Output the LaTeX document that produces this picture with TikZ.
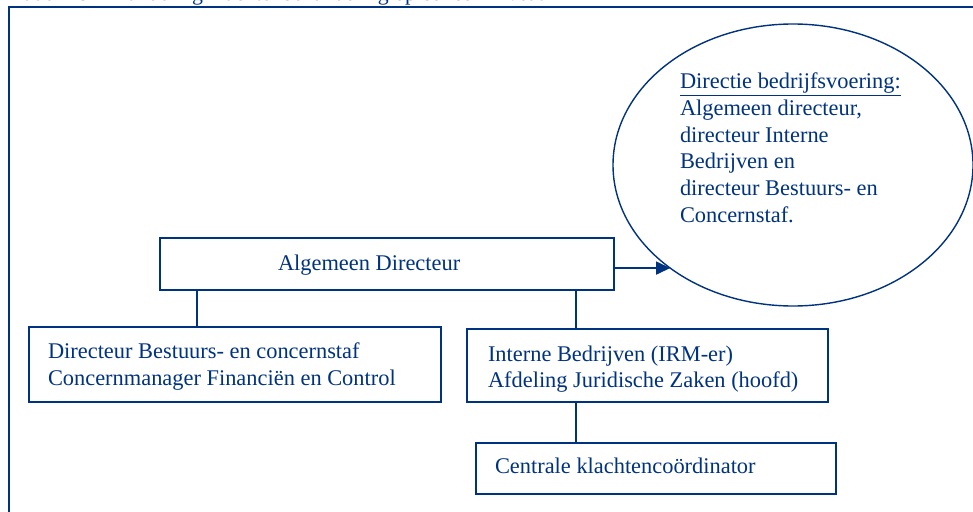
\documentclass[tikz,border=0pt]{standalone}
\usepackage{fontspec}
\setmainfont{Liberation Serif}
\usetikzlibrary{arrows.meta,shapes.geometric}
\definecolor{navy}{RGB}{0,51,127}
\begin{document}
\begin{tikzpicture}[x=1pt,y=-1pt,
  every node/.style={inner sep=0pt, outer sep=0pt},
  boxnode/.style={draw=navy, line width=1.4pt, rectangle, anchor=north west},
  lbl/.style={anchor=base west, text=navy, font=\fontsize{22.4}{26.7}\selectfont},
  conn/.style={draw=navy, line width=1.4pt}]
\useasboundingbox (0,0) rectangle (973,511);
\clip (0,0) rectangle (973,511);
\fill[white] (0,0) rectangle (973,511);
% clipped title
\node[lbl, font=\fontsize{21.8}{26}\selectfont] (title) at (8,1) {Kader 18 Afhandeling klachtenbehandeling op concernniveau};
% frame
\draw[navy, line width=2.6pt] (9,530) -- (9,7) -- (990,7);
% boxes
\node[boxnode, minimum width=454pt, minimum height=52pt] (ad) at (160,238) {};
\node[boxnode, minimum width=412pt, minimum height=75pt] (dbc) at (29,327) {};
\node[boxnode, minimum width=361pt, minimum height=73pt] (ib) at (467,329) {};
\node[boxnode, minimum width=360pt, minimum height=51pt] (ck) at (476,443) {};
\node[draw=navy, line width=1.4pt, ellipse, minimum width=360pt, minimum height=282pt] (dir) at (793,165) {};
% texts
\node[lbl] (tad) at (278,270) {Algemeen Directeur};
\node[lbl] (tdbc1) at (48,358) {Directeur Bestuurs- en concernstaf};
\node[lbl] (tdbc2) at (48,385) {Concernmanager Financiën en Control};
\node[lbl] (tib1) at (488,361) {Interne Bedrijven (IRM-er)};
\node[lbl] (tib2) at (488,387) {Afdeling Juridische Zaken (hoofd)};
\node[lbl] (tck) at (495,473) {Centrale klachtencoördinator};
\node[lbl, align=left, anchor=north west] (tdir) at (680,73) {\underline{Directie bedrijfsvoering:}\\Algemeen directeur,\\directeur Interne\\Bedrijven en\\directeur Bestuurs- en\\Concernstaf.};
% connectors
\draw[conn] (ad.south -| 197,0) -- (dbc.north -| 197,0);
\draw[conn] (ad.south -| 576,0) -- (ib.north -| 576,0);
\draw[conn] (ib.south -| 576,0) -- (ck.north -| 576,0);
\draw[conn, -{Triangle[length=14pt,width=13pt]}] (ad.east |- dir.220) -- (dir.220);
\end{tikzpicture}
\end{document}
